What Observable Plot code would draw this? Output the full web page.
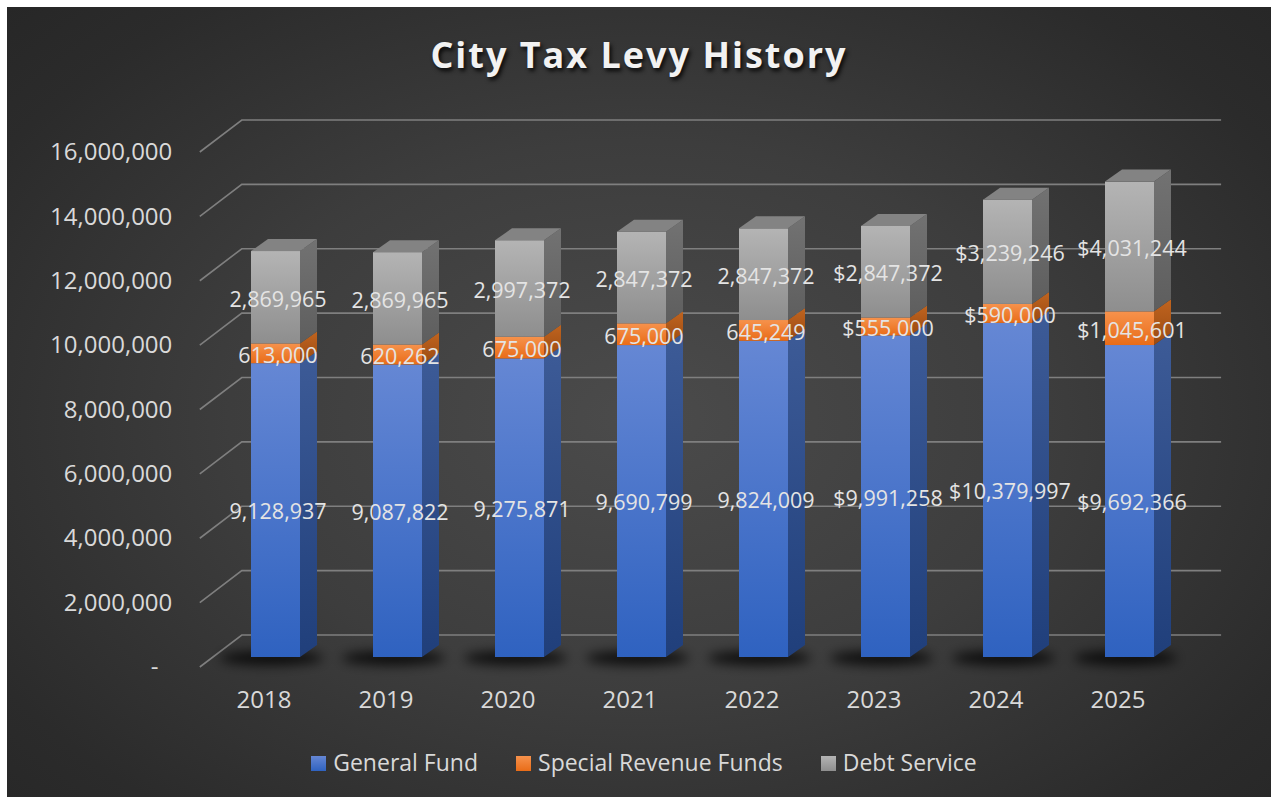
<!DOCTYPE html>
<html>
<head>
<meta charset="utf-8">
<script src="https://cdn.jsdelivr.net/npm/d3@7"></script>
<script src="https://cdn.jsdelivr.net/npm/@observablehq/plot@0.6"></script>
<style>
html, body { margin: 0; padding: 0; background: #ffffff; }
#chart {
  position: absolute; left: 7px; top: 7px; width: 1264px; height: 790px; overflow: hidden;
  background: radial-gradient(ellipse 72% 78% at 50% 52%, #4b4b4b 0%, #3d3d3d 45%, #2b2b2b 82%, #262626 100%);
  font-family: "Open Sans", sans-serif;
}
#title {
  height: 95px; display: flex; align-items: center; justify-content: center;
  color: #f2f2f2; font-weight: 700; font-size: 36px; letter-spacing: 2px;
  text-shadow: 2px 3px 4px rgba(0,0,0,0.85);
}
#plot { height: 625px; }
#plot svg { display: block; }
#legend {
  height: 70px; display: flex; align-items: center; justify-content: center;
  color: #d9d9d9; font-size: 23px; padding-left: 10px; box-sizing: border-box;
}
.item { display: flex; align-items: center; margin: 0 19px; }
.sw { width: 15px; height: 15px; margin-right: 7px; margin-top: 2px; }
</style>
</head>
<body>
<div id="chart">
  <div id="title">City Tax Levy History</div>
  <div id="plot"></div>
  <div id="legend"></div>
</div>
<script>
// ---- data ----
const years = ["2018", "2019", "2020", "2021", "2022", "2023", "2024", "2025"];
const generalFund = [9128937, 9087822, 9275871, 9690799, 9824009, 9991258, 10379997, 9692366];
const specialRevenueFunds = [613000, 620262, 675000, 675000, 645249, 555000, 590000, 1045601];
const debtService = [2869965, 2869965, 2997372, 2847372, 2847372, 2847372, 3239246, 4031244];
const seriesNames = ["General Fund", "Special Revenue Funds", "Debt Service"];
const dollarYears = ["2023", "2024", "2025"];
const yTicks = [0, 2000000, 4000000, 6000000, 8000000, 10000000, 12000000, 14000000, 16000000];

const seriesValues = [generalFund, specialRevenueFunds, debtService];
const rows = [];
years.forEach((year, i) => {
  seriesNames.forEach((s, k) => {
    const v = seriesValues[k][i];
    const num = d3.format(",")(v);
    rows.push({year, series: s, value: v, label: dollarYears.includes(year) ? "$" + num : num});
  });
});

// ---- styling ----
const frontFills = ["url(#gBlue)", "url(#gOrange)", "url(#gGray)"];
const sideFills = ["url(#sBlue)", "url(#sOrange)", "url(#sGray)"];
const topFill = "#838383";
const DX = 17, DY = 12;          // bar depth
const WX = 42, WY = 32;          // wall depth (front plane -> back wall)
const FRONT_DY = 10;             // front plane offset from the bar plane
const NS = "http://www.w3.org/2000/svg";

function el(name, attrs, parent) {
  const e = document.createElementNS(NS, name);
  for (const k in attrs) e.setAttribute(k, attrs[k]);
  if (parent) parent.appendChild(e);
  return e;
}
function pick(args) {
  const scales = args.find(a => a && typeof a.x === "function" && typeof a.y === "function");
  const dims = args.find(a => a && typeof a === "object" && "marginLeft" in a && "width" in a);
  return {scales, dims};
}
function bw(sx) { return typeof sx.bandwidth === "function" ? sx.bandwidth() : sx.bandwidth; }

function lin(id, c1, c2, parent) {
  const g = el("linearGradient", {id, x1: 0, y1: 0, x2: 0, y2: 1}, parent);
  el("stop", {offset: "0%", "stop-color": c1}, g);
  el("stop", {offset: "100%", "stop-color": c2}, g);
}

const defsMark = () => {
  const g = el("g", {});
  const defs = el("defs", {}, g);
  lin("gBlue", "#6587d4", "#2f62c0", defs);
  lin("gOrange", "#f6924c", "#e96c18", defs);
  lin("gGray", "#b4b4b4", "#8e8e8e", defs);
  lin("sBlue", "#3d5b97", "#203f7b", defs);
  lin("sOrange", "#c0641f", "#9a4a12", defs);
  lin("sGray", "#727272", "#5e5e5e", defs);
  const f = el("filter", {id: "blur", x: "-50%", y: "-150%", width: "200%", height: "400%"}, defs);
  el("feGaussianBlur", {stdDeviation: 6}, f);
  return g;
};

const gridMark = (...args) => {
  const {scales, dims} = pick(args);
  const g = el("g", {fill: "none", stroke: "#7f7f7f", "stroke-width": 1.6});
  const fx = dims.marginLeft + 11;
  const bx = dims.width - dims.marginRight + 5;
  yTicks.forEach(t => {
    const y = scales.y(t);
    el("polyline", {points: `${fx},${y + FRONT_DY} ${fx + WX},${y + FRONT_DY - WY} ${bx},${y + FRONT_DY - WY}`}, g);
  });
  return g;
};

const shadowMark = (...args) => {
  const {scales} = pick(args);
  const g = el("g", {fill: "#000", "fill-opacity": 0.8, filter: "url(#blur)"});
  const w = bw(scales.x);
  const y0 = scales.y(0);
  years.forEach(year => {
    const x = scales.x(year);
    el("ellipse", {cx: x + w / 2 - 4, cy: y0 + 1, rx: w * 1.05, ry: 7}, g);
  });
  return g;
};

const depthMark = (...args) => {
  const {scales} = pick(args);
  const g = el("g", {});
  const w = bw(scales.x);
  years.forEach((year, i) => {
    const x1 = scales.x(year), x2 = x1 + w;
    let cum = 0;
    seriesValues.forEach((vals, k) => {
      const yb = scales.y(cum), yt = scales.y(cum + vals[i]);
      cum += vals[i];
      el("polygon", {points: `${x2},${yb} ${x2 + DX},${yb - DY} ${x2 + DX},${yt - DY} ${x2},${yt}`, fill: sideFills[k]}, g);
      if (k === seriesValues.length - 1) {
        el("polygon", {points: `${x1},${yt} ${x1 + DX},${yt - DY} ${x2 + DX},${yt - DY} ${x2},${yt}`, fill: topFill}, g);
      }
    });
  });
  return g;
};

const plot = Plot.plot({
  width: 1264,
  height: 625,
  marginLeft: 181.8,
  marginRight: 54.9,
  marginTop: 40,
  marginBottom: 70,
  style: {background: "transparent", color: "#d9d9d9", fontFamily: "'Open Sans', sans-serif", overflow: "visible"},
  x: {domain: years, paddingInner: 0.6, paddingOuter: 0.5, align: 0.5},
  y: {domain: [0, 16000000]},
  color: {domain: seriesNames, range: frontFills},
  marks: [
    defsMark,
    gridMark,
    shadowMark,
    Plot.barY(rows, {x: "year", y: "value", fill: "series"}),
    depthMark,
    Plot.axisY(yTicks, {
      tickSize: 0, tickPadding: 17, dy: FRONT_DY, fontSize: 24, label: null,
      tickFormat: d => d === 0 ? "-\u2007" : d3.format(",")(d)
    }),
    Plot.axisX({tickSize: 0, tickPadding: 33, dx: -12, fontSize: 24, label: null}),
    Plot.text(rows, Plot.stackY({
      x: "year", y: "value", z: "series", text: "label",
      dx: 2, dy: 2, fontSize: 21.5, fill: "#e4e4e4"
    }))
  ]
});
document.getElementById("plot").appendChild(plot);

// legend
const legend = d3.select("#legend");
const swatchBg = [
  "linear-gradient(#6587d4, #2f62c0)",
  "linear-gradient(#f6924c, #e96c18)",
  "linear-gradient(#b4b4b4, #8e8e8e)"
];
seriesNames.forEach((s, k) => {
  const it = legend.append("div").attr("class", "item");
  it.append("div").attr("class", "sw").style("background", swatchBg[k]);
  it.append("span").text(s);
});
</script>
</body>
</html>
